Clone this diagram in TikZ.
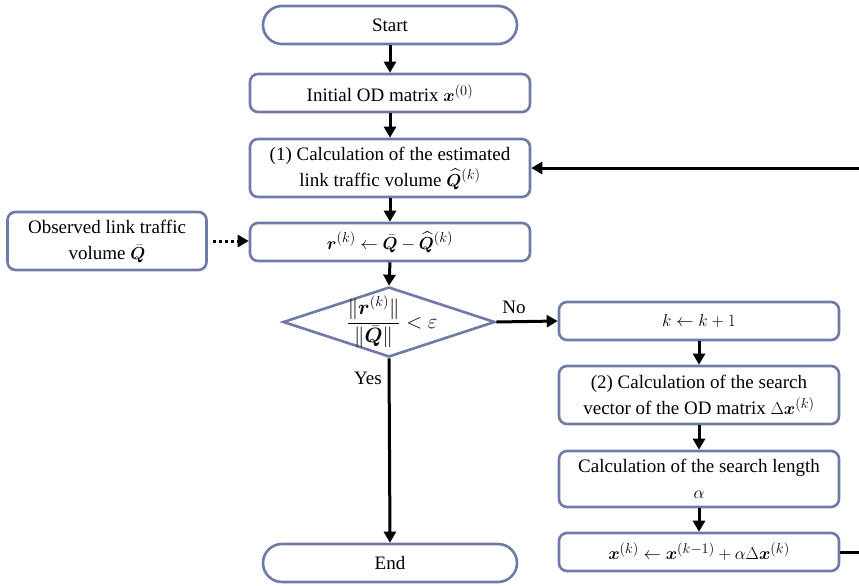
\documentclass[tikz,border=0pt]{standalone}
\usepackage{amsmath,amssymb}
\usepackage{bm}
\usepackage{fontspec}
\setmainfont{Liberation Serif}
\usepackage{tikz}
\usetikzlibrary{shapes.geometric,arrows.meta,positioning}

\definecolor{boxline}{RGB}{112,122,166}

\begin{document}
\begin{tikzpicture}[x=1pt,y=-1pt]
  % Styles
  \tikzset{
    terminal/.style={rectangle, draw=boxline, line width=2.6pt, fill=white, rounded corners=19pt,
      minimum width=254pt, minimum height=38pt, inner sep=0pt, align=center, font=\fontsize{19}{25}\selectfont},
    process/.style={rectangle, draw=boxline, line width=2.6pt, fill=white, rounded corners=8pt,
      minimum width=280pt, minimum height=38pt, inner sep=0pt, align=center, font=\fontsize{19}{26}\selectfont},
    decision/.style={diamond, draw=boxline, line width=2.6pt, fill=white, aspect=3.04,
      minimum width=212pt, minimum height=70pt, inner sep=0pt},
    lbl/.style={font=\fontsize{19}{25}\selectfont, inner sep=0pt},
    arrow/.style={-{Triangle[length=11pt,width=12pt]}, line width=3pt, black},
    dotarrow/.style={arrow, dash pattern=on 3pt off 3pt}
  }
  \useasboundingbox (0,0) rectangle (859,586);

  % Main column
  \node[terminal] (start) at (390,25) {Start};
  \node[process] (init) at (390,93) {Initial OD matrix $\bm{x}^{(0)}$};
  \node[process, minimum height=58pt] (calc1) at (390,168) {(1) Calculation of the estimated\\link traffic volume $\widehat{\bm{Q}}^{(k)}$};
  \node[process] (resid) at (390,242) {$\bm{r}^{(k)}\leftarrow\bar{\bm{Q}}-\widehat{\bm{Q}}^{(k)}$};
  \node[process, minimum width=199pt, minimum height=58pt] (obs) at (107,241) {Observed link traffic\\volume $\bar{\bm{Q}}$};
  \node[decision] (dec) at (389,322) {};
  \node[lbl, font=\fontsize{21}{25}\selectfont] (dectext) at (392,322) {$\dfrac{\lVert\bm{r}^{(k)}\rVert}{\lVert\bar{\bm{Q}}\rVert}<\varepsilon$};
  \node[terminal] (end) at (390,563) {End};

  % Update column
  \node[process] (inc) at (699,321) {$k\leftarrow k+1$};
  \node[process, minimum height=58pt] (calc2) at (699,395) {(2) Calculation of the search\\vector of the OD matrix $\Delta\bm{x}^{(k)}$};
  \node[process, minimum height=56pt] (calc3) at (699,479) {Calculation of the search length\\$\alpha$};
  \node[process] (upd) at (699,552) {$\bm{x}^{(k)}\leftarrow\bm{x}^{(k-1)}+\alpha\Delta\bm{x}^{(k)}$};

  % Labels
  \node[lbl] (nolbl) at (514,307) {No};
  \node[lbl] (yeslbl) at (368,378) {Yes};

  % Arrows
  \draw[arrow] (start.south) -- (init.north);
  \draw[arrow] (init.south) -- (calc1.north);
  \draw[arrow] (calc1.south) -- (resid.north);
  \draw[dotarrow] ([xshift=5pt]obs.east) -- (obs.east -| resid.west);
  \draw[arrow] (resid.south) -- (dec.north);
  \draw[arrow] (dec.east) -- (inc.west);
  \draw[arrow] (dec.south) -- (end.north);
  \draw[arrow] (inc.south) -- (calc2.north);
  \draw[arrow] (calc2.south) -- (calc3.north);
  \draw[arrow] (calc3.south) -- (upd.north);

  % Feedback loop
  \coordinate (loop) at (880,0);
  \draw[arrow] (upd.east) -- (upd.east -| loop) |- (calc1.east);

\end{tikzpicture}
\end{document}
